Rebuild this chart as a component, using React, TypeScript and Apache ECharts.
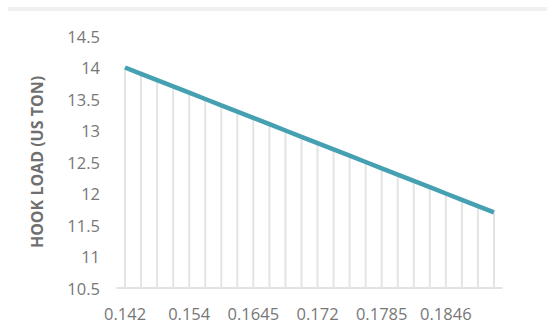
import React, { useEffect, useRef } from "react";
import * as echarts from "echarts";

// Depth-ratio categories along the x axis (every fourth one is labelled)
const ratios: string[] = [
  "0.142", "0.145", "0.148", "0.151",
  "0.154", "0.1566", "0.1592", "0.1618",
  "0.1645", "0.1664", "0.1683", "0.1701",
  "0.172", "0.1736", "0.1752", "0.1769",
  "0.1785", "0.18", "0.1815", "0.1831",
  "0.1846", "0.1861", "0.1876", "0.189",
];

// Hook load in US tons for each ratio
const hookLoad: number[] = [
  14.0, 13.9, 13.8, 13.7,
  13.6, 13.5, 13.4, 13.3,
  13.2, 13.1, 13.0, 12.9,
  12.8, 12.7, 12.6, 12.5,
  12.4, 12.3, 12.2, 12.1,
  12.0, 11.9, 11.8, 11.7,
];

const yMin = 10.5;
const yMax = 14.5;
const yStep = 0.5;

export default function App() {
  const ref = useRef<HTMLDivElement>(null);

  useEffect(() => {
    if (!ref.current) return;
    const chart = echarts.init(ref.current, undefined, { renderer: "svg" });
    const font = "'Open Sans', 'DejaVu Sans', sans-serif";
    chart.setOption({
      animation: false,
      backgroundColor: "#ffffff",
      graphic: [
        {
          type: "rect",
          shape: { x: 8, y: 7, width: 539, height: 4 },
          style: { fill: "#f0f0f0" },
          silent: true,
        },
      ],
      grid: { left: 117, right: 45, top: 36, bottom: 39 },
      xAxis: {
        type: "category",
        data: ratios,
        boundaryGap: true,
        axisLine: { show: true, lineStyle: { color: "#d9d9d9", width: 1.5 } },
        axisTick: { show: false },
        axisLabel: {
          interval: 3,
          color: "#777777",
          fontSize: 16.5,
          fontFamily: font,
          margin: 17,
        },
        splitLine: { show: false },
      },
      yAxis: {
        type: "value",
        min: yMin,
        max: yMax,
        interval: yStep,
        name: "HOOK LOAD (US TON)",
        nameLocation: "middle",
        nameGap: 72,
        nameRotate: 90,
        nameTextStyle: {
          color: "#6f6f6f",
          fontSize: 16,
          fontWeight: "bold",
          fontFamily: font,
        },
        axisLine: { show: false },
        axisTick: { show: false },
        splitLine: { show: false },
        axisLabel: {
          color: "#777777",
          fontSize: 16.5,
          fontFamily: font,
          margin: 17,
          formatter: (v: number) => String(Math.round(v * 10) / 10),
        },
      },
      series: [
        {
          // drop lines from each point down to the axis
          type: "bar",
          data: hookLoad,
          barWidth: 2,
          itemStyle: { color: "#e4e4e4" },
          silent: true,
          z: 1,
        },
        {
          type: "line",
          data: hookLoad,
          showSymbol: false,
          lineStyle: { color: "#45a0b2", width: 4.5 },
          z: 3,
        },
      ],
    });
    return () => chart.dispose();
  }, []);

  return (
    <div
      ref={ref}
      style={{ position: "fixed", left: 0, top: 0, width: 547, height: 327 }}
    />
  );
}
